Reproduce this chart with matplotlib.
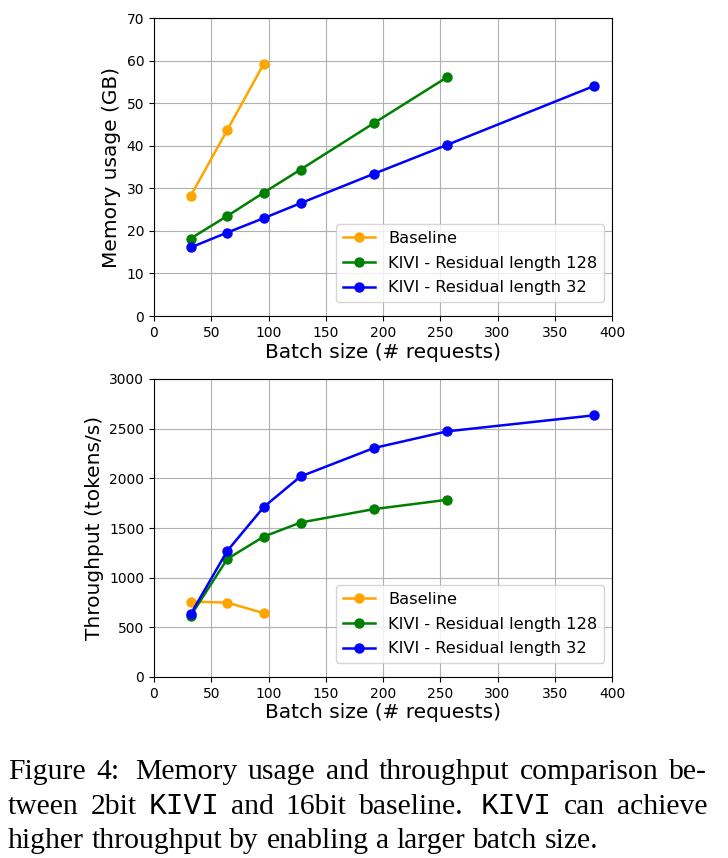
import matplotlib
matplotlib.use("Agg")
import matplotlib.pyplot as plt

# batch sizes (# requests)
batch_base = [32, 64, 96]
batch_kivi128 = [32, 64, 96, 128, 192, 256]
batch_kivi32 = [32, 64, 96, 128, 192, 256, 384]

# memory usage (GB)
mem_base = [28.2, 43.7, 59.3]
mem_kivi128 = [18.2, 23.5, 29.0, 34.4, 45.3, 56.1]
mem_kivi32 = [16.1, 19.6, 23.0, 26.5, 33.4, 40.2, 54.0]

# throughput (tokens/s)
thr_base = [759, 749, 642]
thr_kivi128 = [615, 1189, 1414, 1555, 1690, 1784]
thr_kivi32 = [632, 1270, 1713, 2019, 2305, 2473, 2634]

labels = ["Baseline", "KIVI - Residual length 128", "KIVI - Residual length 32"]
colors = ["orange", "green", "blue"]

caption = [
    [("Figure", "s"), ("4:", "s"), ("Memory", "s"), ("usage", "s"), ("and", "s"),
     ("throughput", "s"), ("comparison", "s"), ("be-", "s")],
    [("tween", "s"), ("2bit", "s"), ("KIVI", "m"), ("and", "s"), ("16bit", "s"),
     ("baseline.", "s"), ("KIVI", "m"), ("can", "s"), ("achieve", "s")],
    [("higher", "s"), ("throughput", "s"), ("by", "s"), ("enabling", "s"), ("a", "s"),
     ("larger", "s"), ("batch", "s"), ("size.", "s")],
]

W, H = 728, 858
fig = plt.figure(figsize=(W / 100, H / 100), dpi=100)

ax1 = fig.add_axes([154 / W, 1 - 316 / H, (612 - 154) / W, (316 - 18) / H])
ax2 = fig.add_axes([154 / W, 1 - 677 / H, (612 - 154) / W, (677 - 379) / H])

for ax, ys, ylab, ylim in [
    (ax1, (mem_base, mem_kivi128, mem_kivi32), "Memory usage (GB)", (0, 70)),
    (ax2, (thr_base, thr_kivi128, thr_kivi32), "Throughput (tokens/s)", (0, 3000)),
]:
    for xs, y, lab, c in zip((batch_base, batch_kivi128, batch_kivi32), ys, labels, colors):
        ax.plot(xs, y, "-o", color=c, label=lab, lw=1.8, ms=6.5)
    ax.set_xlim(0, 400)
    ax.set_ylim(*ylim)
    ax.grid(True)
    ax.set_axisbelow(True)
    ax.tick_params(labelsize=10)
    ax.set_xlabel("Batch size (# requests)", fontsize=14.5, labelpad=2)
    ax.set_ylabel(ylab, fontsize=14.5)
    ax.legend(loc="lower right", fontsize=11.7, bbox_to_anchor=(0.9825, 0.047),
              borderaxespad=0, labelspacing=0.6, handlelength=2.0)

# caption, justified like the paper text
fam = {"s": "Liberation Serif", "m": "Liberation Mono"}
size = 21.3
x0, x1 = 8, 707
baselines = [779, 814, 848]
fig.canvas.draw()
r = fig.canvas.get_renderer()
for li, (words, yb) in enumerate(zip(caption, baselines)):
    arts = []
    for w, f in words:
        t = fig.text(0, 1 - yb / H, w, family=fam[f], fontsize=size,
                     va="baseline", ha="left")
        arts.append(t)
    widths = [t.get_window_extent(r).width for t in arts]
    sp = fig.text(0, 0, "a a", family=fam["s"], fontsize=size)
    sp2 = fig.text(0, 0, "aa", family=fam["s"], fontsize=size)
    space = sp.get_window_extent(r).width - sp2.get_window_extent(r).width
    sp.remove(); sp2.remove()
    weights = []
    for w, f in words[:-1]:
        weights.append(1.5 if w.endswith((".", ":")) else 1.0)
    if li < len(caption) - 1:
        gap = (x1 - x0 - sum(widths)) / sum(weights)
    else:
        gap = space
    x = x0
    for t, wd, k in zip(arts, widths, weights + [0]):
        t.set_x(x / W)
        x += wd + gap * k

fig.savefig("out.png", dpi=100)
